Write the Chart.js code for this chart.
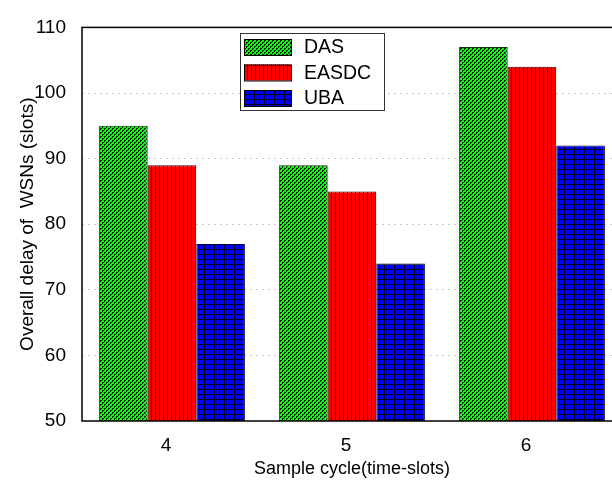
<!DOCTYPE html>
<html>
<head>
<meta charset="utf-8">
<script src="https://cdn.jsdelivr.net/npm/chart.js@4/dist/chart.umd.min.js"></script>
<style>
html,body{margin:0;padding:0;background:#fff;overflow:hidden;}
#wrap{width:612px;height:480px;overflow:hidden;position:relative;}
canvas{display:block;}
</style>
</head>
<body>
<div id="wrap"><canvas id="c" width="630" height="480"></canvas></div>
<script>
const categories = ['4', '5', '6'];
const seriesNames = ['DAS', 'EASDC', 'UBA'];
const dasValues = [95, 89, 107];
const easdcValues = [89, 85, 104];
const ubaValues = [77, 74, 92];
const yTickValues = [50, 60, 70, 80, 90, 100, 110];
const xTitle = 'Sample cycle(time-slots)';
const yTitle = 'Overall delay of  WSNs (slots)';

const FONT = '"Liberation Sans", Arial, sans-serif';

function makePattern(kind) {
  const c = document.createElement('canvas');
  const g = c.getContext('2d');
  if (kind === 'green') {
    c.width = 4; c.height = 4;
    g.fillStyle = '#00ff00'; g.fillRect(0, 0, 4, 4);
    g.fillStyle = '#002000';
    g.fillRect(0, 0, 2, 1); g.fillRect(2, 2, 2, 1);
    g.fillRect(0, 0, 1, 2); g.fillRect(2, 2, 1, 2);
  } else if (kind === 'red') {
    c.width = 4; c.height = 4;
    g.fillStyle = '#ff0000'; g.fillRect(0, 0, 4, 4);
    g.fillStyle = '#000'; g.fillRect(3, 0, 1, 4);
  } else {
    c.width = 5; c.height = 5;
    g.fillStyle = '#0000ff'; g.fillRect(0, 0, 5, 5);
    g.fillStyle = '#000010'; g.fillRect(4, 0, 1, 5); g.fillRect(0, 4, 5, 1);
  }
  return document.getElementById('c').getContext('2d').createPattern(c, 'repeat');
}

const fills = [makePattern('green'), makePattern('red'), makePattern('blue')];
const borders = ['#0b3d0b', '#3a0000', '#000033'];
const valueSets = [dasValues, easdcValues, ubaValues];

const framePlugin = {
  id: 'frame',
  afterDatasetsDraw(chart) {
    const a = chart.chartArea, ctx = chart.ctx;
    ctx.save();
    ctx.strokeStyle = '#000';
    ctx.lineWidth = 1.5;
    ctx.strokeRect(a.left, a.top, a.right - a.left, a.bottom - a.top);
    ctx.restore();
  }
};

const legendPlugin = {
  id: 'boxLegend',
  afterDraw(chart) {
    const ctx = chart.ctx;
    const x = 240, y = 33, w = 144, h = 77;
    ctx.save();
    ctx.fillStyle = '#fff';
    ctx.fillRect(x, y, w, h);
    ctx.strokeStyle = '#333';
    ctx.lineWidth = 1;
    ctx.strokeRect(x + 0.5, y + 0.5, w, h);
    ctx.font = '19.5px ' + FONT;
    ctx.textBaseline = 'middle';
    chart.data.datasets.forEach((ds, i) => {
      const ry = y + 14 + i * 25.5;
      ctx.fillStyle = ds.backgroundColor;
      ctx.fillRect(x + 4, ry - 8, 47, 16);
      ctx.strokeStyle = '#000';
      ctx.lineWidth = 1;
      ctx.strokeRect(x + 4.5, ry - 7.5, 47, 16);
      ctx.fillStyle = '#000';
      ctx.fillText(ds.label, x + 64, ry + 1);
    });
    ctx.restore();
  }
};

new Chart(document.getElementById('c'), {
  type: 'bar',
  data: {
    labels: categories,
    datasets: seriesNames.map((n, i) => ({
      label: n,
      data: valueSets[i],
      backgroundColor: fills[i],
      borderColor: borders[i],
      borderWidth: 1,
      borderSkipped: false,
      barPercentage: 1,
      categoryPercentage: 0.81
    }))
  },
  options: {
    responsive: false,
    animation: false,
    layout: { padding: { left: 0, top: 19, right: 8, bottom: 0 } },
    plugins: { legend: { display: false }, tooltip: { enabled: false } },
    scales: {
      x: {
        grid: { display: false },
        border: { display: false },
        ticks: { color: '#000', font: { family: FONT, size: 19 }, padding: 5, labelOffset: -6 },
        title: { display: true, text: xTitle, color: '#000', font: { family: FONT, size: 18 }, padding: { top: 0, bottom: 0 } },
        afterFit(s) { s.height = 59; }
      },
      y: {
        min: 50, max: 110,
        afterBuildTicks(s) { s.ticks = yTickValues.map(v => ({ value: v })); },
        grid: {
          drawTicks: false,
          color: c => (c.tick && (c.tick.value === 50 || c.tick.value === 110)) ? 'rgba(0,0,0,0)' : '#c8c8c8',
          lineWidth: 1
        },
        border: { display: false, dash: [2, 4] },
        ticks: { color: '#000', font: { family: FONT, size: 19 }, padding: 16 },
        title: { display: true, text: yTitle, color: '#000', font: { family: FONT, size: 19 }, padding: { top: 16, bottom: 0 } },
        afterFit(s) { s.width = 82; }
      }
    }
  },
  plugins: [framePlugin, legendPlugin]
});
</script>
</body>
</html>
